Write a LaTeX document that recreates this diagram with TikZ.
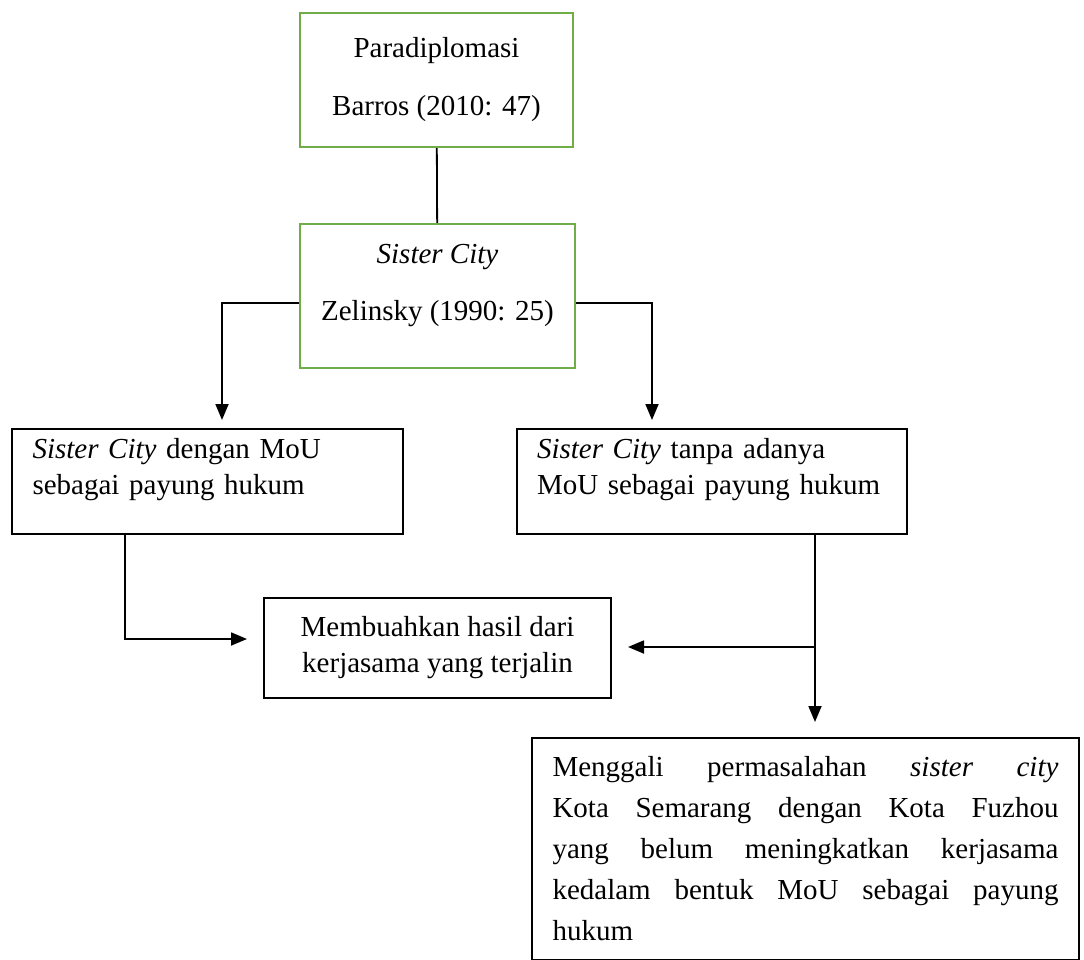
\documentclass[tikz,border=0pt]{standalone}
\usepackage{fontspec}
\setmainfont{Liberation Serif}
\usetikzlibrary{positioning, arrows.meta}

\definecolor{boxgreen}{RGB}{112,173,71}
\tikzset{
  greenbox/.style={draw=boxgreen, line width=2.4pt, align=center, inner sep=0pt},
  blackbox/.style={draw=black, line width=2.2pt, inner sep=0pt},
  link/.style={line width=1.8pt}
}

\begin{document}
\begin{tikzpicture}[x=1pt,y=-1pt,>={Triangle[length=16pt,width=13pt]},
  font=\fontsize{29}{36}\selectfont]
\useasboundingbox (0,0) rectangle (1084,960);

% the two green boxes
\node[greenbox, minimum width=273pt, minimum height=134pt] (para) at (436.5,80)
  {Paradiplomasi\\[22pt]Barros (2010: 47)};
\node[greenbox, minimum width=275pt, minimum height=144pt] (sc) at (437.5,296)
  {\textit{Sister City}\\[21pt]Zelinsky (1990: 25)\\[-8pt]\mbox{}};

% the black boxes
\node[blackbox, minimum width=391pt, minimum height=105pt, text width=350pt, align=left] (lbox) at (207.5,481.5)
  {\textit{Sister City} dengan MoU\\sebagai payung hukum\\[-6pt]\mbox{}};
\node[blackbox, minimum width=390pt, minimum height=105pt, text width=350pt, align=left] (rbox) at (712,481.5)
  {\textit{Sister City} tanpa adanya\\MoU sebagai payung hukum\\[-6pt]\mbox{}};
\node[blackbox, minimum width=347pt, minimum height=100pt, align=center] (mid) at (437.5,648)
  {Membuahkan hasil dari\\kerjasama yang terjalin};
\node[blackbox, minimum width=547pt, minimum height=222pt, text width=506pt, align=justify,
  font=\fontsize{29}{41}\selectfont] (bot) at (805.5,849)
  {\hyphenpenalty=10000 Menggali permasalahan \textit{sister city}\linebreak
   Kota Semarang dengan Kota Fuzhou\linebreak
   yang belum meningkatkan kerjasama\linebreak
   kedalam bentuk MoU sebagai payung\linebreak
   hukum};

% ends of the connectors
\coordinate (lk) at (222,420);
\coordinate (rk) at (652,420);
\coordinate (lb) at (125,639);
\coordinate (ml) at (247,639);
\coordinate (rj) at (815,647);
\coordinate (mk) at (628,647);
\coordinate (bk) at (815,722);

\draw[link] (para) -- (sc);
\draw[link,->] ([yshift=-7pt]sc.west) -| (lk);
\draw[link,->] ([yshift=-7pt]sc.east) -| (rk);
\draw[link,->] (lbox.south -| lb) |- (ml);
\draw[link,->] (rbox.south -| rj) -- (bk);
\draw[link,->] (rj) -- (mk);
\end{tikzpicture}
\end{document}
